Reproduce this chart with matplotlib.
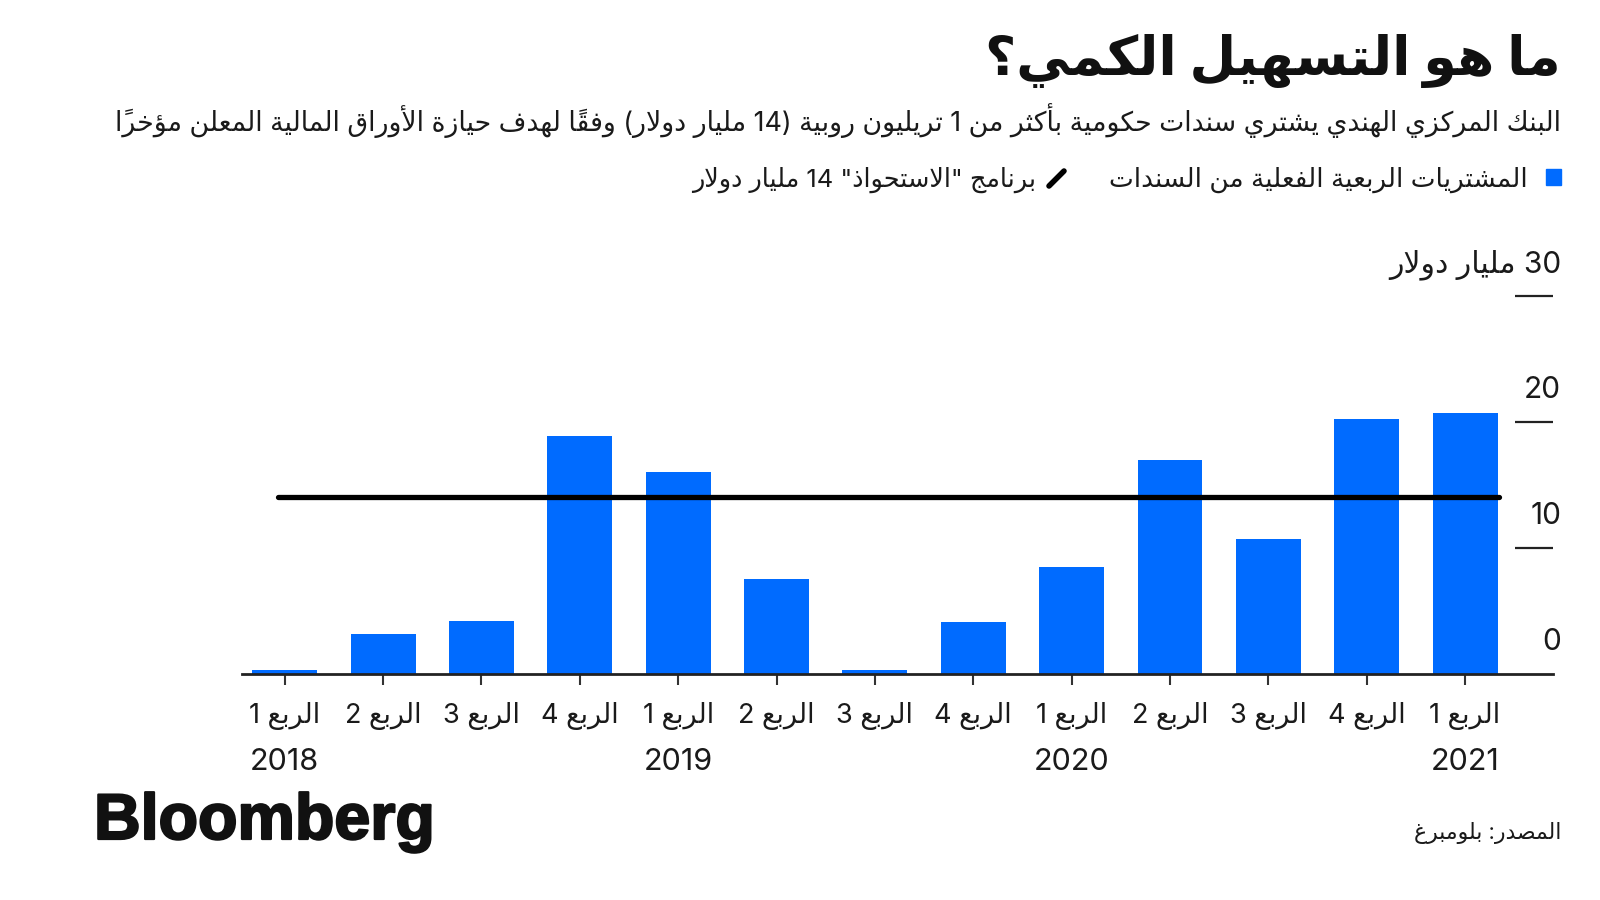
import numpy as np
import matplotlib
matplotlib.use("Agg")
import matplotlib.pyplot as plt
import matplotlib.patheffects as pe
from matplotlib.patches import Rectangle
from matplotlib.lines import Line2D

# ---------------- data ----------------
quarter_labels = ["الربع 1", "الربع 2", "الربع 3", "الربع 4",
                  "الربع 1", "الربع 2", "الربع 3", "الربع 4",
                  "الربع 1", "الربع 2", "الربع 3", "الربع 4",
                  "الربع 1"]
year_labels = ["2018", "", "", "", "2019", "", "", "", "2020", "", "", "", "2021"]
purchases = [0.3, 3.1, 4.2, 18.9, 16.0, 7.5, 0.25, 4.1, 8.5, 17.0, 10.7, 20.2, 20.7]
program_target = 14
y_ticks = [0, 10, 20, 30]
y_unit = "مليار دولار"

title = "ما هو التسهيل الكمي؟"
subtitle = ("البنك المركزي الهندي يشتري سندات حكومية بأكثر من 1 تريليون روبية "
            "(14 مليار دولار) وفقاً لهدف حيازة الأوراق المالية المعلن مؤخراً")
legend_bars = "المشتريات الربعية الفعلية من السندات"
legend_line = 'برنامج "الاستحواذ" 14 مليار دولار'
source = "المصدر: بلومبرغ"

BLUE = "#006BFF"
TEXT = "#1a1a1a"
FONT = ["Inter", "DejaVu Sans"]

# ---------------- minimal Arabic shaping + RTL ordering ----------------
_FORM_TABLE = [
    ("\u0621", 0xFE80, 1), ("\u0622", 0xFE81, 2), ("\u0623", 0xFE83, 2),
    ("\u0624", 0xFE85, 2), ("\u0625", 0xFE87, 2), ("\u0626", 0xFE89, 4),
    ("\u0627", 0xFE8D, 2), ("\u0628", 0xFE8F, 4), ("\u0629", 0xFE93, 2),
    ("\u062A", 0xFE95, 4), ("\u062B", 0xFE99, 4), ("\u062C", 0xFE9D, 4),
    ("\u062D", 0xFEA1, 4), ("\u062E", 0xFEA5, 4), ("\u062F", 0xFEA9, 2),
    ("\u0630", 0xFEAB, 2), ("\u0631", 0xFEAD, 2), ("\u0632", 0xFEAF, 2),
    ("\u0633", 0xFEB1, 4), ("\u0634", 0xFEB5, 4), ("\u0635", 0xFEB9, 4),
    ("\u0636", 0xFEBD, 4), ("\u0637", 0xFEC1, 4), ("\u0638", 0xFEC5, 4),
    ("\u0639", 0xFEC9, 4), ("\u063A", 0xFECD, 4), ("\u0641", 0xFED1, 4),
    ("\u0642", 0xFED5, 4), ("\u0643", 0xFED9, 4), ("\u0644", 0xFEDD, 4),
    ("\u0645", 0xFEE1, 4), ("\u0646", 0xFEE5, 4), ("\u0647", 0xFEE9, 4),
    ("\u0648", 0xFEED, 2), ("\u0649", 0xFEEF, 2), ("\u064A", 0xFEF1, 4),
]
FORMS = {c: (b, n) for c, b, n in _FORM_TABLE}
LAM_ALEF = {"\u0627": (0xFEFB, 0xFEFC), "\u0623": (0xFEF7, 0xFEF8),
            "\u0625": (0xFEF9, 0xFEFA), "\u0622": (0xFEF5, 0xFEF6)}
MIRROR = {"(": ")", ")": "("}


def is_mark(c):
    return "\u064B" <= c <= "\u0652"


def shape(s):
    chars = list(s)
    n = len(chars)
    out = []

    def prev_letter(i):
        j = i - 1
        while j >= 0 and is_mark(chars[j]):
            j -= 1
        return chars[j] if j >= 0 else None

    def next_letter(i):
        j = i + 1
        while j < n and is_mark(chars[j]):
            j += 1
        return (chars[j], j) if j < n else (None, n)

    i = 0
    while i < n:
        c = chars[i]
        if c not in FORMS:
            out.append(c)
            i += 1
            continue
        p = prev_letter(i)
        jp = p is not None and p in FORMS and FORMS[p][1] == 4
        nc, j = next_letter(i)
        if c == "\u0644" and nc in LAM_ALEF:
            out.append(chr(LAM_ALEF[nc][1 if jp else 0]))
            out.extend(chars[i + 1:j])
            i = j + 1
            continue
        base, cnt = FORMS[c]
        if cnt == 1:
            out.append(chr(base))
            i += 1
            continue
        jn = cnt == 4 and nc is not None and nc in FORMS and FORMS[nc][1] > 1
        if jp and jn:
            k = 3
        elif jp:
            k = 1
        elif jn:
            k = 2
        else:
            k = 0
        out.append(chr(base + k))
        i += 1
    return "".join(out)


def ar(s):
    t = shape(s)
    clusters = []
    i = 0
    while i < len(t):
        c = t[i]
        if c.isdigit():
            j = i
            while j < len(t) and t[j].isdigit():
                j += 1
            clusters.append(t[i:j])
            i = j
        else:
            j = i + 1
            while j < len(t) and is_mark(t[j]):
                j += 1
            clusters.append(t[i:j])
            i = j
    clusters.reverse()
    return "".join(MIRROR.get(c, c) for c in clusters)


def fx(px):
    return px / 1600.0


def fy(py):
    return 1.0 - py / 900.0


# ---------------- figure ----------------
fig = plt.figure(figsize=(16, 9), dpi=100)
fig.patch.set_facecolor("white")

ax_left, ax_right = 242.0, 1553.0
ax_bottom, ax_top = 673.5, 296.0
ax = fig.add_axes([fx(ax_left), fy(ax_bottom), (ax_right - ax_left) / 1600.0,
                   (ax_bottom - ax_top) / 900.0])
ax_h = ax_bottom - ax_top

x = np.arange(len(purchases))
ax.bar(x, purchases, width=0.66, color=BLUE, zorder=2)
ax.plot([x[0] - 0.07, x[-1] + 0.34], [program_target, program_target],
        color="black", lw=3.8, solid_capstyle="round", zorder=3)

ax.set_xlim(-0.434, 12.894)
ax.set_ylim(0, 30)
for s in ["top", "left", "right"]:
    ax.spines[s].set_visible(False)
ax.spines["bottom"].set_color("#222222")
ax.spines["bottom"].set_linewidth(2.0)
ax.spines["bottom"].set_zorder(4)
ax.set_yticks([])
ax.set_xticks(x)
ax.tick_params(axis="x", length=8, width=1.5, color="#333333", labelbottom=False)

# y ticks (right side, label above tick)
ytr = ax.get_yaxis_transform()
for v in y_ticks:
    if v != 0:
        ax.plot([0.971, 1.0], [v, v], transform=ytr, color="#222222", lw=1.6,
                clip_on=False, solid_capstyle="butt")
    lab = str(v) if v != y_ticks[-1] else ar(f"{v} {y_unit}")
    ax.text(1 + 8 / (ax_right - ax_left), v + 1.87, lab, transform=ytr,
            ha="right", va="baseline", fontsize=21.5, color=TEXT, family=FONT)

# x tick labels
xtr = ax.get_xaxis_transform()
for i in range(len(x)):
    ax.text(x[i], -(722.5 - ax_bottom) / ax_h, ar(quarter_labels[i]), transform=xtr,
            ha="center", va="baseline", fontsize=19.5, color=TEXT, family=FONT)
    if year_labels[i]:
        ax.text(x[i], -(770.4 - ax_bottom) / ax_h, year_labels[i], transform=xtr,
                ha="center", va="baseline", fontsize=22, color=TEXT, family=FONT)

# ---------------- header ----------------
fig.text(fx(1561), fy(74.5), ar(title), ha="right", va="baseline", fontsize=38.8,
         fontweight="bold", color="#111111", family=FONT)
fig.text(fx(1561), fy(130.6), ar(subtitle), ha="right", va="baseline", fontsize=19.3,
         color=TEXT, family=FONT)

# legend
fig.patches.append(Rectangle((fx(1546), fy(185)), 15 / 1600, 16 / 900,
                             transform=fig.transFigure, color=BLUE))
fig.text(fx(1527.6), fy(186.7), ar(legend_bars), ha="right", va="baseline",
         fontsize=19, color=TEXT, family=FONT)
fig.lines.append(Line2D([fx(1049), fx(1064)], [fy(186), fy(171)],
                        transform=fig.transFigure, lw=4, color="black",
                        solid_capstyle="round"))
fig.text(fx(1035.7), fy(186.7), ar(legend_line), ha="right", va="baseline",
         fontsize=18.4, color=TEXT, family=FONT)

# ---------------- footer ----------------
fig.text(fx(94), fy(839), "Bloomberg", ha="left", va="baseline", fontsize=46.5,
         fontweight="bold", color="#111111", family="Liberation Sans",
         path_effects=[pe.withStroke(linewidth=1.6, foreground="#111111")])
fig.text(fx(1561), fy(839), ar(source), ha="right", va="baseline", fontsize=15.8,
         color=TEXT, family=FONT)

fig.savefig("out.png", dpi=100)
